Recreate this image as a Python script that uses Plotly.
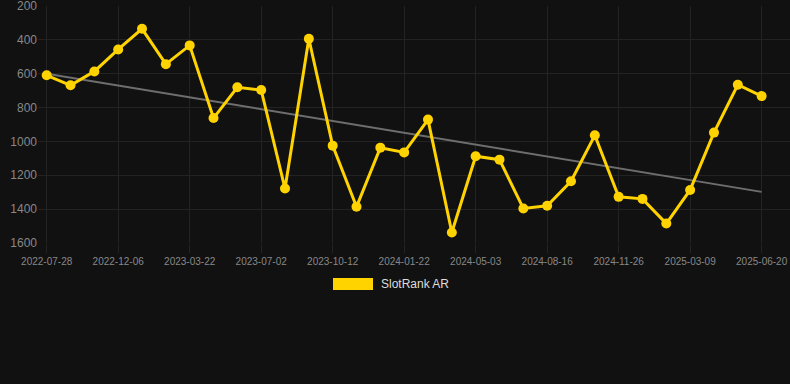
import numpy as np
import plotly.graph_objects as go

dates = [
    "2022-07-28", "2022-09-10", "2022-10-23", "2022-12-06", "2023-01-10", "2023-02-14",
    "2023-03-22", "2023-04-25", "2023-05-29", "2023-07-02", "2023-08-05", "2023-09-08",
    "2023-10-12", "2023-11-15", "2023-12-19", "2024-01-22", "2024-02-25", "2024-03-30",
    "2024-05-03", "2024-06-07", "2024-07-12", "2024-08-16", "2024-09-19", "2024-10-23",
    "2024-11-26", "2024-12-30", "2025-02-02", "2025-03-09", "2025-04-12", "2025-05-16",
    "2025-06-20",
]
rank = [609, 668, 586, 456, 334, 543, 432, 862, 680, 696, 1279, 393, 1025, 1387, 1037,
        1065, 871, 1539, 1088, 1108, 1397, 1381, 1236, 964, 1328, 1340, 1486, 1287, 948,
        665, 732]
tick_labels = ["2022-07-28", "2022-12-06", "2023-03-22", "2023-07-02", "2023-10-12",
               "2024-01-22", "2024-05-03", "2024-08-16", "2024-11-26", "2025-03-09",
               "2025-06-20"]
y_ticks = [200, 400, 600, 800, 1000, 1200, 1400, 1600]
series_name = "SlotRank AR"

idx = np.arange(len(rank))
slope, intercept = np.polyfit(idx, rank, 1)
trend = slope * idx + intercept

GOLD = "#FFD300"
fig = go.Figure()
fig.add_trace(go.Scatter(x=dates, y=trend, mode="lines",
                         line=dict(color="#6e6e6e", width=2), showlegend=False,
                         hoverinfo="skip"))
fig.add_trace(go.Scatter(x=dates, y=rank, mode="lines+markers", name=series_name,
                         line=dict(color=GOLD, width=3),
                         marker=dict(color=GOLD, size=10), showlegend=False))

fig.update_layout(
    width=790, height=384,
    margin=dict(l=38, r=0, t=6, b=141),
    paper_bgcolor="#111111", plot_bgcolor="#111111",
    font=dict(family="Arial, Liberation Sans, sans-serif", color="#888888"),
    xaxis=dict(type="category", categoryorder="array", categoryarray=dates,
               tickmode="array", tickvals=tick_labels, ticktext=tick_labels,
               range=[-0.365, 31.19], showgrid=True, gridcolor="#232323",
               ticks="outside", ticklen=9, tickcolor="#232323",
               tickfont=dict(size=10, color="#888888"), zeroline=False,
               showline=False, tickangle=0, ticklabeloverflow="allow"),
    yaxis=dict(range=[1601, 199], tickmode="array", tickvals=y_ticks,
               showgrid=True, gridcolor="#232323", zeroline=False, showline=False,
               tickfont=dict(size=12, color="#888888"), ticklen=0, ticks="",
               ticklabeloverflow="allow"),
    shapes=[dict(type="rect", xref="paper", yref="paper",
                 x0=(333 - 38) / 752, x1=(373 - 38) / 752,
                 y0=(243 - 278) / 237, y1=(243 - 290) / 237,
                 fillcolor=GOLD, line=dict(width=0))],
    annotations=[dict(text=series_name, xref="paper", yref="paper",
                      x=(379 - 38) / 752, y=(243 - 284) / 237,
                      xanchor="left", yanchor="middle", showarrow=False,
                      font=dict(size=12, color="#dddddd"))],
)

fig.write_html("out.html", config={"displayModeBar": False},
               post_script="document.body.style.margin='0';document.body.style.background='#111111';")
